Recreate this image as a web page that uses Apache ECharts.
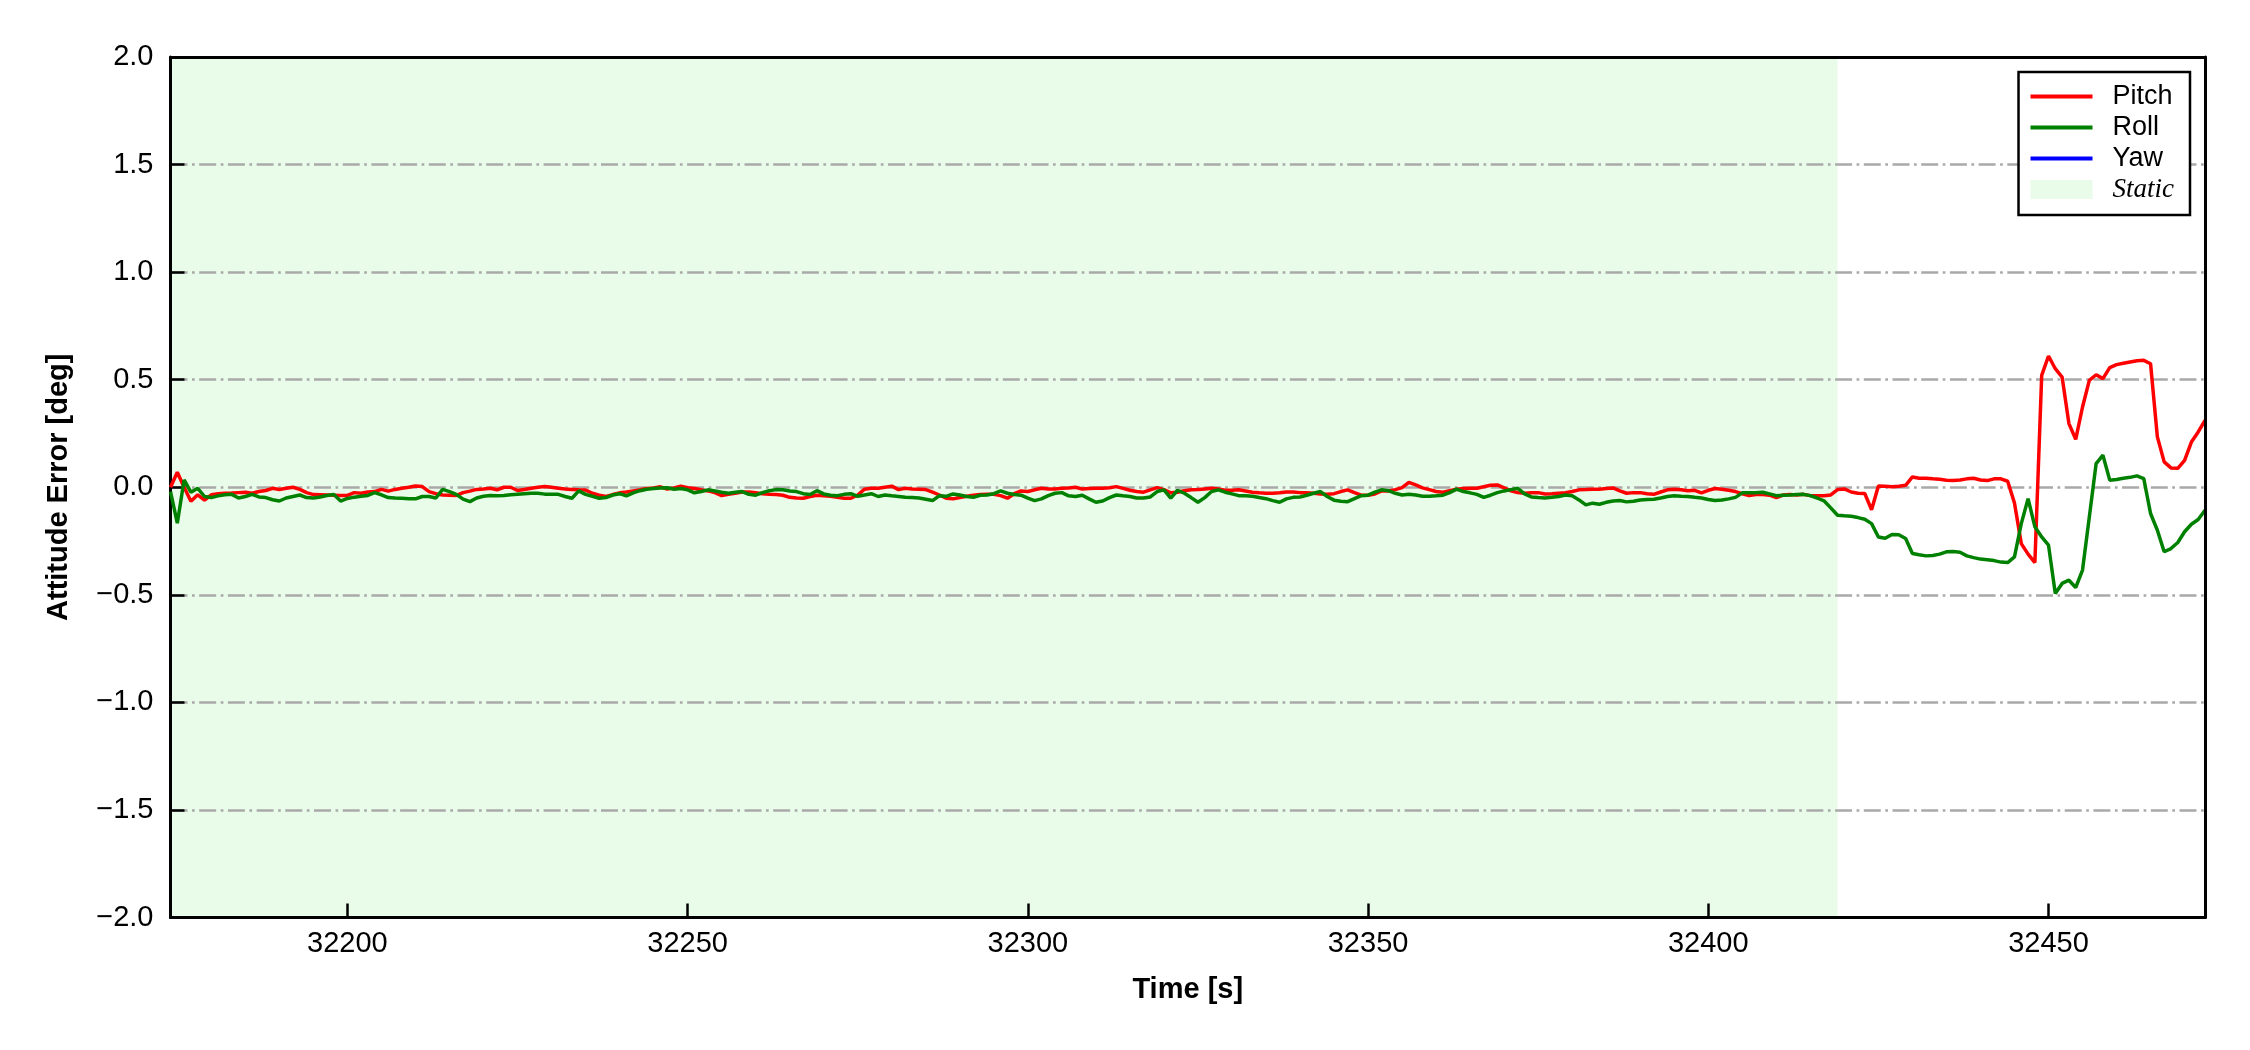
<!DOCTYPE html>
<html><head><meta charset="utf-8">
<script src="https://cdn.jsdelivr.net/npm/echarts@6/dist/echarts.min.js"></script>
<style>html,body{margin:0;padding:0;background:#fff}#c{width:2250px;height:1050px}</style>
</head><body><div id="c"></div>
<script>
// ---- data (1 Hz samples starting at timeStart) ----
const timeStart = 32174;
const pitch = [
 0.0, 0.07, 0.0, -0.065, -0.035, -0.06, -0.035, -0.03, -0.028, -0.027, -0.025, -0.023, -0.028, -0.02, -0.015, -0.005, -0.01, -0.005, 0.0, -0.01,
 -0.025, -0.034, -0.035, -0.036, -0.037, -0.038, -0.038, -0.025, -0.028, -0.022, -0.02, -0.01, -0.018, -0.01, -0.005, 0.0, 0.006, 0.003, -0.02, -0.03,
 -0.036, -0.037, -0.038, -0.025, -0.018, -0.01, -0.008, -0.005, -0.012, 0.0, 0.0, -0.015, -0.01, -0.005, 0.0, 0.003, 0.0, -0.005, -0.008, -0.01,
 -0.012, -0.013,
 -0.028, -0.037, -0.043, -0.034, -0.026, -0.022, -0.017, -0.012, -0.006, -0.003, 0.002, -0.008, -0.003, 0.005, -0.002, -0.006, -0.012, -0.017, -0.025, -0.039,
 -0.033, -0.028, -0.022, -0.022, -0.026, -0.03, -0.033, -0.034, -0.037, -0.047, -0.05, -0.051, -0.043, -0.037, -0.039, -0.042, -0.047, -0.051, -0.051, -0.036,
 -0.009, -0.005, -0.005, 0.0, 0.005, -0.011, -0.005, -0.008, -0.009, -0.011, -0.023, -0.036, -0.051, -0.054, -0.048, -0.042, -0.037, -0.034, -0.033, -0.033,
 -0.039, -0.051,
 -0.03, -0.017, -0.02, -0.012, -0.005, -0.008, -0.008, -0.005, -0.003, 0.0, -0.008, -0.006, -0.005, -0.005, -0.002, 0.003, -0.005, -0.014, -0.02, -0.023,
 -0.012, -0.002, -0.011, -0.026, -0.023, -0.016, -0.012, -0.011, -0.008, -0.005, -0.008, -0.014, -0.014, -0.012, -0.017, -0.023, -0.026, -0.028, -0.028, -0.026,
 -0.022, -0.022, -0.025, -0.026, -0.028, -0.031, -0.033, -0.03, -0.02, -0.012, -0.025, -0.037, -0.037, -0.031, -0.017, -0.017, -0.011, -0.002, 0.023, 0.011,
 -0.003,
 -0.011, -0.02, -0.023, -0.016, -0.009, -0.006, -0.005, -0.005, 0.002, 0.009, 0.011, -0.003, -0.017, -0.025, -0.028, -0.025, -0.025, -0.031, -0.03, -0.028,
 -0.026, -0.02, -0.012, -0.011, -0.009, -0.009, -0.006, -0.003, -0.017, -0.028, -0.025, -0.025, -0.03, -0.033, -0.022, -0.012, -0.009, -0.012, -0.016, -0.014,
 -0.026, -0.014, -0.006, -0.009, -0.014, -0.02, -0.03, -0.039, -0.034, -0.034, -0.037, -0.048, -0.036, -0.034, -0.036,
 -0.033, -0.039, -0.04, -0.039, -0.036, -0.011, -0.008, -0.022, -0.028, -0.029, -0.105, 0.006, 0.005, 0.002, 0.005, 0.009, 0.048, 0.042, 0.042, 0.039,
 0.037, 0.033, 0.031, 0.034, 0.039, 0.042, 0.034, 0.031, 0.039, 0.039, 0.028, -0.073, -0.262, -0.311, -0.35, 0.52, 0.61, 0.551, 0.512, 0.296,
 0.223, 0.373, 0.497, 0.523, 0.505, 0.556, 0.57, 0.576, 0.582, 0.588, 0.59, 0.574, 0.234, 0.118, 0.09, 0.088, 0.125, 0.21, 0.257, 0.311
];
const roll = [
 -0.02, -0.167, 0.034, -0.023, -0.005, -0.043, -0.048, -0.04, -0.035, -0.033, -0.05, -0.043, -0.033, -0.045, -0.048, -0.058, -0.064, -0.05, -0.043, -0.036,
 -0.048, -0.05, -0.045, -0.038, -0.034, -0.064, -0.052, -0.046, -0.042, -0.038, -0.025, -0.035, -0.048, -0.05, -0.051, -0.053, -0.054, -0.043, -0.043, -0.05,
 -0.01, -0.02, -0.033, -0.055, -0.067, -0.05, -0.042, -0.038, -0.04, -0.038, -0.035, -0.032, -0.03, -0.028, -0.028, -0.032, -0.033, -0.033, -0.043, -0.051,
 -0.017, -0.033,
 -0.042, -0.051, -0.048, -0.036, -0.03, -0.04, -0.026, -0.016, -0.009, -0.006, -0.003, -0.002, -0.009, -0.006, -0.012, -0.026, -0.02, -0.012, -0.017, -0.023,
 -0.028, -0.023, -0.02, -0.033, -0.037, -0.025, -0.016, -0.011, -0.012, -0.017, -0.02, -0.03, -0.034, -0.016, -0.031, -0.037, -0.039, -0.033, -0.03, -0.042,
 -0.036, -0.03, -0.043, -0.036, -0.04, -0.043, -0.047, -0.048, -0.05, -0.056, -0.062, -0.039, -0.042, -0.031, -0.036, -0.043, -0.047, -0.037, -0.036, -0.03,
 -0.017, -0.028,
 -0.034, -0.037, -0.051, -0.062, -0.054, -0.039, -0.028, -0.025, -0.04, -0.043, -0.037, -0.054, -0.07, -0.064, -0.048, -0.036, -0.04, -0.043, -0.05, -0.05,
 -0.045, -0.02, -0.012, -0.051, -0.014, -0.028, -0.048, -0.07, -0.048, -0.02, -0.012, -0.023, -0.031, -0.039, -0.04, -0.042, -0.048, -0.053, -0.062, -0.07,
 -0.054, -0.047, -0.045, -0.037, -0.028, -0.02, -0.043, -0.06, -0.065, -0.067, -0.053, -0.039, -0.037, -0.023, -0.012, -0.016, -0.028, -0.036, -0.033, -0.036,
 -0.042,
 -0.042, -0.04, -0.037, -0.025, -0.009, -0.02, -0.026, -0.033, -0.047, -0.037, -0.025, -0.017, -0.011, -0.005, -0.031, -0.045, -0.048, -0.05, -0.047, -0.043,
 -0.036, -0.04, -0.059, -0.082, -0.074, -0.079, -0.07, -0.064, -0.062, -0.068, -0.065, -0.059, -0.057, -0.056, -0.05, -0.043, -0.039, -0.042, -0.043, -0.047,
 -0.05, -0.057, -0.062, -0.059, -0.054, -0.047, -0.026, -0.026, -0.026, -0.023, -0.031, -0.039, -0.037, -0.036, -0.034,
 -0.033, -0.039, -0.05, -0.063, -0.096, -0.13, -0.133, -0.135, -0.141, -0.149, -0.169, -0.231, -0.237, -0.22, -0.221, -0.238, -0.308, -0.314, -0.319, -0.317,
 -0.311, -0.3, -0.299, -0.302, -0.319, -0.327, -0.334, -0.337, -0.341, -0.348, -0.35, -0.324, -0.169, -0.053, -0.184, -0.231, -0.269, -0.494, -0.447, -0.432,
 -0.466, -0.385, -0.138, 0.11, 0.149, 0.033, 0.036, 0.042, 0.046, 0.053, 0.04, -0.122, -0.2, -0.3, -0.285, -0.257, -0.207, -0.172, -0.15, -0.107
];
const yaw = [];
const staticPeriod = [32174, 32419];
const xRange = [32174, 32473];
const yRange = [-2, 2];
const yStep = 0.5;
const xTicks = [32200, 32250, 32300, 32350, 32400, 32450];
const seriesNames = ['Pitch', 'Roll', 'Yaw', 'Static'];

// ---- chart ----
const FONT = '"Liberation Sans", Arial, Helvetica, sans-serif';
const toPairs = arr => arr.map((v, i) => [timeStart + i, v]);
const fmtY = v => v.toFixed(1).replace('-', '\u2212');
const frameLine = {show: true, onZero: false, lineStyle: {color: '#000', width: 3}};
const hideSymbol = {opacity: 0};

const chart = echarts.init(document.getElementById('c'), null, {renderer: 'canvas'});
chart.setOption({
  animation: false,
  backgroundColor: '#ffffff',
  grid: {left: 170.5, right: 45, top: 57, bottom: 132.5, containLabel: false},
  legend: {
    orient: 'vertical', right: 60, top: 72,
    backgroundColor: '#fff', borderColor: '#000', borderWidth: 2.5, borderRadius: 0,
    padding: [11, 16, 12, 10],
    itemWidth: 62, itemHeight: 19, itemGap: 4,
    lineStyle: {width: 4},
    textStyle: {fontFamily: FONT, fontSize: 27, color: '#000', lineHeight: 27, padding: [0, 0, 0, 15]},
    data: [
      {name: seriesNames[0], itemStyle: hideSymbol},
      {name: seriesNames[1], itemStyle: hideSymbol},
      {name: seriesNames[2], itemStyle: hideSymbol},
      {name: seriesNames[3], icon: 'rect', itemStyle: {color: '#e9fce9', opacity: 1},
       textStyle: {fontFamily: '"Liberation Serif", "Times New Roman", serif', fontStyle: 'italic', fontSize: 27}}
    ]
  },
  xAxis: [
    {type: 'value', min: xRange[0], max: xRange[1], position: 'bottom', z: 5,
     name: 'Time [s]', nameLocation: 'middle', nameGap: 58,
     nameTextStyle: {fontFamily: FONT, fontWeight: 'bold', fontSize: 29, color: '#000'},
     axisLine: frameLine,
     axisTick: {show: true, inside: true, length: 14, lineStyle: {color: '#000', width: 2.5}, customValues: xTicks},
     axisLabel: {show: true, margin: 12, fontFamily: FONT, fontSize: 29, color: '#000', customValues: xTicks, formatter: v => String(v)},
     splitLine: {show: false}},
    {type: 'value', min: xRange[0], max: xRange[1], position: 'top', z: 5,
     axisLine: frameLine, axisTick: {show: false}, axisLabel: {show: false}, splitLine: {show: false}}
  ],
  yAxis: [
    {type: 'value', min: yRange[0], max: yRange[1], interval: yStep, position: 'left', z: 2,
     name: 'Attitude Error [deg]', nameLocation: 'middle', nameRotate: 90, nameGap: 97,
     nameTextStyle: {fontFamily: FONT, fontWeight: 'bold', fontSize: 29, color: '#000'},
     axisLine: frameLine,
     axisTick: {show: true, inside: true, length: 14, lineStyle: {color: '#000', width: 2.5}},
     axisLabel: {show: true, margin: 17, fontFamily: FONT, fontSize: 29, color: '#000', formatter: fmtY},
     splitLine: {show: true, lineStyle: {color: '#a9a9a9', width: 2.7, type: [17, 4.5, 2.7, 4.5]}}},
    {type: 'value', min: yRange[0], max: yRange[1], position: 'right', z: 5,
     axisLine: frameLine, axisTick: {show: false}, axisLabel: {show: false}, splitLine: {show: false}}
  ],
  series: [
    {name: seriesNames[3], type: 'line', data: [], z: 0, silent: true, symbol: 'none',
     itemStyle: {color: '#e9fce9'}, lineStyle: {color: '#e9fce9'},
     markArea: {silent: true, z: 0, itemStyle: {color: '#e9fce9', opacity: 1},
       data: [[{xAxis: staticPeriod[0]}, {xAxis: staticPeriod[1]}]]}},
    {name: seriesNames[0], type: 'line', data: toPairs(pitch), symbol: 'none', z: 3,
     lineStyle: {color: '#ff0000', width: 3.5}, itemStyle: {color: '#ff0000'}},
    {name: seriesNames[1], type: 'line', data: toPairs(roll), symbol: 'none', z: 4,
     lineStyle: {color: '#008000', width: 3.5}, itemStyle: {color: '#008000'}},
    {name: seriesNames[2], type: 'line', data: toPairs(yaw), symbol: 'none', z: 4,
     lineStyle: {color: '#0000ff', width: 3.5}, itemStyle: {color: '#0000ff'}}
  ]
});
</script>
</body></html>
